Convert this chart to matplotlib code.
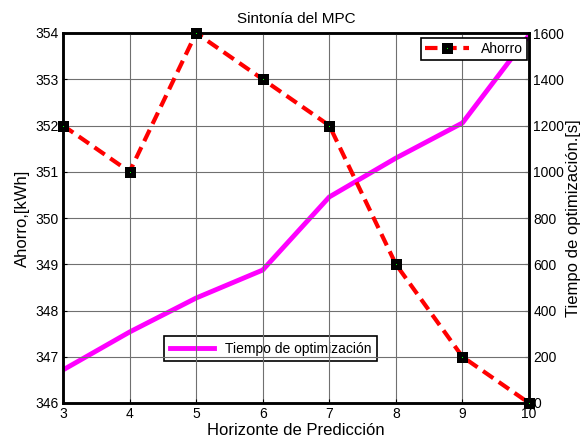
import matplotlib.pyplot as plt
import numpy as np

plt.rcParams['font.family'] = ['Liberation Sans', 'DejaVu Sans']

# datos
horizonte = [3, 4, 5, 6, 7, 8, 9, 10]
ahorro = [352, 351, 354, 353, 352, 349, 347, 346]
tiempo = [143, 307, 454, 575, 891, 1059, 1211, 1590]

fig = plt.figure(figsize=(5.82, 4.46), dpi=100)
ax = fig.add_axes([63/582, 43/446, 466/582, 370/446])

ax.plot(horizonte, ahorro, '--', color='r', lw=3, dashes=(3, 1.6),
        marker='s', markersize=4.8, markerfacecolor='#00ff00',
        markeredgecolor='k', markeredgewidth=3.6, label='Ahorro', zorder=5,
        clip_on=False)
ax.set_xlim(3, 10)
ax.set_ylim(346, 354)
ax.set_xticks(range(3, 11))
ax.set_yticks(range(346, 355))
ax.grid(True, color='#707070', lw=0.8)
ax.set_xlabel('Horizonte de Predicción', fontsize=12, labelpad=1)
ax.set_ylabel('Ahorro,[kWh]', fontsize=12, labelpad=4)
ax.set_title('Sintonía del MPC', fontsize=11, pad=7)

ax2 = ax.twinx()
ax2.plot(horizonte, tiempo, color='#ff00ff', lw=3.5, label='Tiempo de optimización')
ax2.set_ylim(0, 1600)
ax2.set_yticks(range(0, 1601, 200))
ax2.set_ylabel('Tiempo de optimización.[s]', fontsize=12, labelpad=1)

for a in (ax, ax2):
    a.tick_params(direction='in', length=3, labelsize=10, pad=3)
    for s in a.spines.values():
        s.set_linewidth(1.8)

leg1 = ax.legend(loc='upper right', bbox_to_anchor=(0.995, 0.987), fontsize=10,
                 fancybox=False, edgecolor='k', framealpha=1, borderpad=0.3,
                 handlelength=3.2, borderaxespad=0)
leg1.get_frame().set_linewidth(1.2)
ax.set_zorder(ax2.get_zorder() + 1)
ax.patch.set_visible(False)

leg2 = ax2.legend(loc='lower left', bbox_to_anchor=(0.217, 0.113), fontsize=10,
                  fancybox=False, edgecolor='k', framealpha=1, borderpad=0.4,
                  handlelength=3.2, borderaxespad=0)
leg2.get_frame().set_linewidth(1.2)

fig.savefig('out.png', dpi=100)
